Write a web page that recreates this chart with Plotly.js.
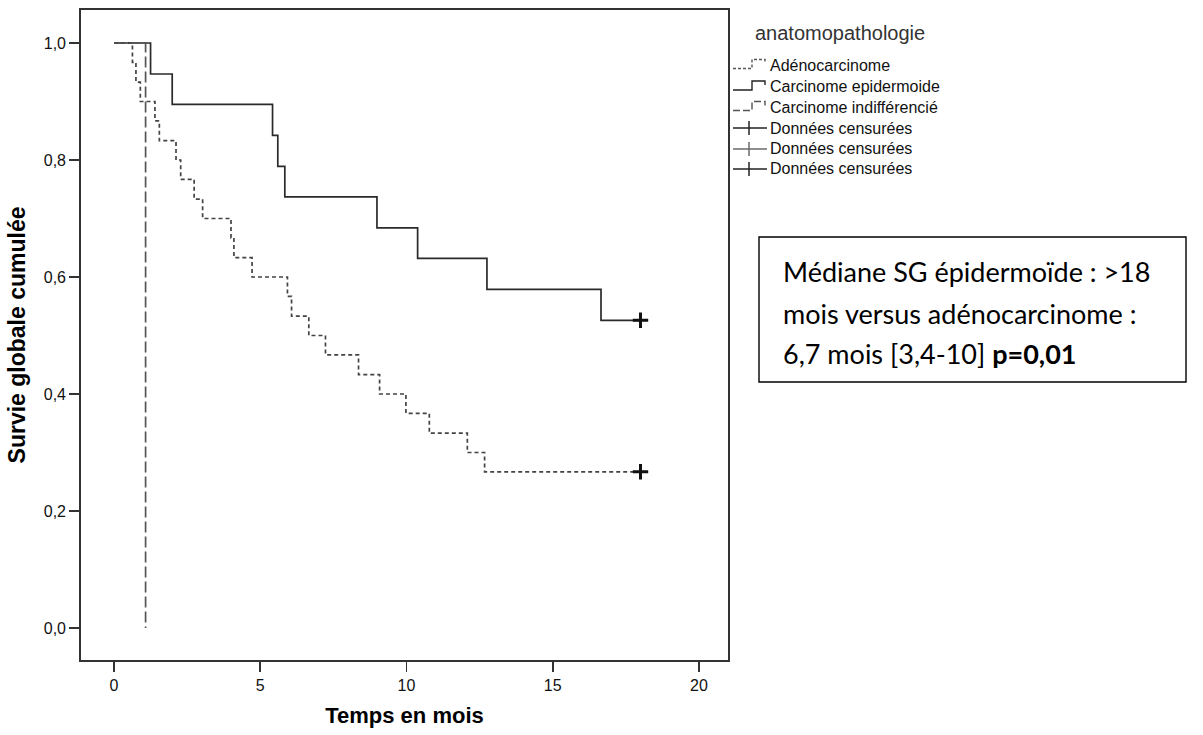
<!DOCTYPE html>
<html>
<head>
<meta charset="utf-8">
<script src="https://cdn.plot.ly/plotly-3.0.1.min.js"></script>
<style>
  html, body { margin: 0; padding: 0; background: #fff; }
  #chart { width: 1203px; height: 735px; }
</style>
</head>
<body>
<div id="chart"></div>
<script>
// ---- Data ----
const adenoTime  = [0, 0.63, 0.75, 0.90, 1.40, 1.55, 2.12, 2.28, 2.74, 3.03, 4.00, 4.10, 4.72, 5.93, 6.07, 6.66, 7.23, 8.36, 9.08, 9.98, 10.78, 12.08, 12.67, 18];
const adenoSurv  = [1, 0.967, 0.933, 0.900, 0.867, 0.833, 0.800, 0.767, 0.733, 0.700, 0.667, 0.633, 0.600, 0.567, 0.533, 0.500, 0.467, 0.433, 0.400, 0.367, 0.333, 0.300, 0.267, 0.267];
const epiTime    = [0, 1.25, 1.99, 5.42, 5.60, 5.84, 8.99, 10.38, 12.75, 16.65, 18];
const epiSurv    = [1, 0.947, 0.895, 0.842, 0.789, 0.737, 0.684, 0.632, 0.579, 0.526, 0.526];
const indiffTime = [0, 1.08];
const indiffSurv = [1, 0];
const censorTime = [18];
const adenoCensorSurv = [0.267];
const epiCensorSurv   = [0.526];

const seriesNames = ["Adénocarcinome", "Carcinome epidermoide", "Carcinome indifférencié",
                     "Données censurées", "Données censurées", "Données censurées"];
const legendTitle = "anatomopathologie";
const yTickVals = [0, 0.2, 0.4, 0.6, 0.8, 1.0];
const yTickText = ["0,0", "0,2", "0,4", "0,6", "0,8", "1,0"];
const xTickVals = [0, 5, 10, 15, 20];
const xTickText = ["0", "5", "10", "15", "20"];
const boxLines = ["Médiane SG épidermoïde : >18",
                  "mois versus adénocarcinome :",
                  "6,7 mois [3,4-10] <b>p=0,01</b>"];

// ---- Layout helpers (pixel -> paper) ----
const W = 1203, H = 735;
const M = { l: 81, r: 475, t: 10, b: 75 };
const PW = W - M.l - M.r, PH = H - M.t - M.b;
const px = x => (x - M.l) / PW;
const py = y => (H - M.b - y) / PH;

const traces = [
  { x: adenoTime, y: adenoSurv, mode: "lines", line: { shape: "hv", color: "#444", width: 1.7, dash: "4px,3px" }, name: seriesNames[0], showlegend: false },
  { x: epiTime, y: epiSurv, mode: "lines", line: { shape: "hv", color: "#2a2a2a", width: 1.7 }, name: seriesNames[1], showlegend: false },
  { x: indiffTime, y: indiffSurv, mode: "lines", line: { shape: "hv", color: "#555555", width: 1.7, dash: "11px,4px" }, name: seriesNames[2], showlegend: false },
  { x: censorTime, y: adenoCensorSurv, mode: "markers", marker: { symbol: "cross-thin", size: 11, line: { width: 3, color: "#111" } }, name: seriesNames[3], showlegend: false },
  { x: censorTime, y: epiCensorSurv, mode: "markers", marker: { symbol: "cross-thin", size: 11, line: { width: 3, color: "#111" } }, name: seriesNames[4], showlegend: false }
];

// custom legend (glyphs + text), mimicking the SPSS legend
const legRows = [65, 86.5, 107, 128, 149, 169];
const shapes = [];
const annotations = [];
annotations.push({ xref: "paper", yref: "paper", x: px(753), y: py(33), xanchor: "left", yanchor: "middle",
  text: legendTitle, showarrow: false, font: { family: "Liberation Sans, Arial, sans-serif", size: 20, color: "#333" } });
const glyphDash = ["3px,2px", "solid", "7px,3px"];
const glyphColor = ["#555", "#222", "#555"];
for (let i = 0; i < 3; i++) {
  const c = legRows[i];
  shapes.push({ type: "path", xref: "paper", yref: "paper",
    path: `M${px(733)},${py(c + 3.5)} H${px(752)} V${py(c - 5.5)} H${px(765)} V${py(c - 1.5)}`,
    line: { color: glyphColor[i], width: 1.4, dash: glyphDash[i] } });
}
const censorColor = ["#222", "#6a6a6a", "#222"];
for (let i = 3; i < 6; i++) {
  const c = legRows[i];
  shapes.push({ type: "line", xref: "paper", yref: "paper", x0: px(733), x1: px(767), y0: py(c), y1: py(c),
    line: { color: censorColor[i - 3], width: 1.5 } });
  shapes.push({ type: "line", xref: "paper", yref: "paper", x0: px(749), x1: px(749), y0: py(c - 7), y1: py(c + 7),
    line: { color: censorColor[i - 3], width: 1.5 } });
}
for (let i = 0; i < 6; i++) {
  annotations.push({ xref: "paper", yref: "paper", x: px(768), y: py(legRows[i]), xanchor: "left", yanchor: "middle",
    text: seriesNames[i], showarrow: false, font: { family: "Liberation Sans, Arial, sans-serif", size: 16, color: "#111" } });
}

// text box
shapes.push({ type: "rect", xref: "paper", yref: "paper", x0: px(759), x1: px(1186), y0: py(382), y1: py(237),
  line: { color: "#000", width: 1.4 }, fillcolor: "rgba(0,0,0,0)" });
const boxY = [271, 313, 354];
for (let i = 0; i < 3; i++) {
  annotations.push({ xref: "paper", yref: "paper", x: px(781), y: py(boxY[i]), xanchor: "left", yanchor: "middle",
    text: boxLines[i], showarrow: false, font: { family: "Lato, Carlito, Calibri, sans-serif", size: 27, color: "#000" } });
}

const layout = {
  width: W, height: H,
  margin: M,
  paper_bgcolor: "#fff", plot_bgcolor: "#fff",
  showlegend: false,
  font: { family: "Liberation Sans, Arial, sans-serif", color: "#111" },
  xaxis: {
    range: [-(114 - M.l) / 29.25, (W - M.r - 114) / 29.25],
    tickvals: xTickVals, ticktext: xTickText,
    ticks: "outside", ticklen: 10, tickwidth: 1.8, tickcolor: "#333",
    showline: true, linecolor: "#333", linewidth: 1.8, mirror: true,
    showgrid: false, zeroline: false,
    tickfont: { size: 16, color: "#111" },
    title: { text: "<b>Temps en mois</b>", font: { size: 22, color: "#000" }, standoff: 14 }
  },
  yaxis: {
    range: [-(660 - 628) / 585, (628 - 10) / 585],
    tickvals: yTickVals, ticktext: yTickText,
    ticks: "outside", ticklen: 10, tickwidth: 1.8, tickcolor: "#333",
    showline: true, linecolor: "#333", linewidth: 1.8, mirror: true,
    showgrid: false, zeroline: false,
    tickfont: { size: 16, color: "#111" },
    title: { text: "<b>Survie globale cumulée</b>", font: { size: 23, color: "#000" }, standoff: 12 }
  },
  shapes: shapes,
  annotations: annotations
};

Plotly.newPlot("chart", traces, layout, { displayModeBar: false, staticPlot: true });
</script>
</body>
</html>
